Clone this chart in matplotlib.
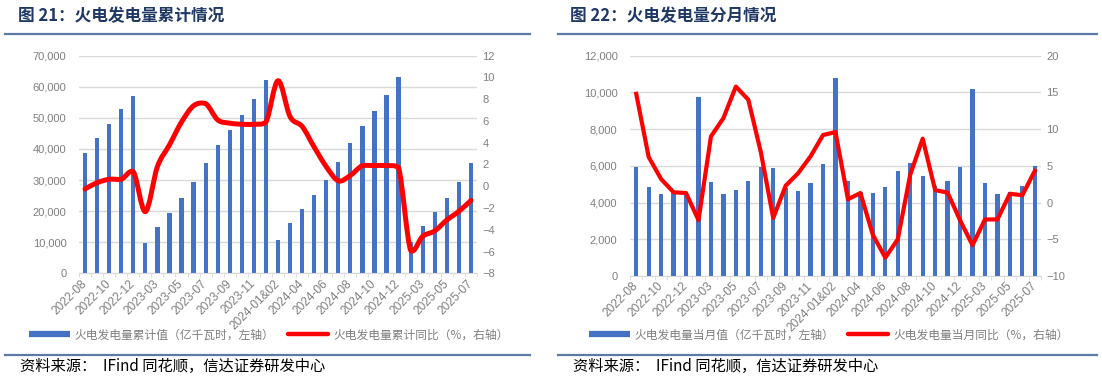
import matplotlib
matplotlib.use("Agg")
import matplotlib.pyplot as plt
import numpy as np
from matplotlib.lines import Line2D
from matplotlib.patches import PathPatch
from matplotlib.path import Path

plt.rcParams["font.family"] = ["Liberation Sans", "Noto Sans CJK SC", "DejaVu Sans"]

W, H = 1102, 381

categories = (
    ["2022-08", "2022-09", "2022-10", "2022-11", "2022-12"]
    + ["2023-01&02"] + [f"2023-{m:02d}" for m in range(3, 13)]
    + ["2024-01&02"] + [f"2024-{m:02d}" for m in range(3, 13)]
    + ["2025-01&02"] + [f"2025-{m:02d}" for m in range(3, 8)]
)

# 累计值（亿千瓦时）与累计同比（%）
cum_value = [38700, 43500, 48000, 52800, 57100,
             9750, 14900, 19400, 24100, 29400, 35400, 41300, 46200, 50900, 56100, 62200,
             10700, 16100, 20600, 25100, 29900, 35700, 41800, 47400, 52100, 57300, 63200,
             10200, 15200, 19800, 24300, 29400, 35400]
cum_yoy = [-0.25, 0.33, 0.64, 0.64, 1.34,
           -2.33, 1.8, 3.8, 5.9, 7.4, 7.6, 6.1, 5.8, 5.7, 5.7, 5.9,
           9.7, 6.4, 5.5, 3.6, 1.8, 0.5, 1.0, 1.9, 1.9, 1.9, 1.7,
           -5.9, -4.6, -4.1, -3.1, -2.3, -1.3]

# 当月值（亿千瓦时）与当月同比（%）
month_value = [5950, 4850, 4440, 4520, 4500,
               9730, 5140, 4480, 4700, 5190, 5950, 5860, 4800, 4640, 5060, 6080,
               10800, 5190, 4550, 4520, 4860, 5740, 6140, 5450, 4900, 5150, 5960,
               10200, 5060, 4460, 4600, 4920, 5970]
month_yoy = [14.8, 6.2, 3.2, 1.4, 1.3,
             -2.4, 9.0, 11.5, 15.8, 14.0, 6.9, -2.1, 2.3, 4.0, 6.3, 9.2,
             9.6, 0.45, 1.3, -4.4, -7.5, -5.0, 3.8, 8.7, 1.7, 1.35, -2.4,
             -5.8, -2.3, -2.3, 1.2, 1.0, 4.3]

BLUE = "#4472C4"
RED = "#FF0000"
GRID = "#D9D9D9"
TXT = "#7F7F7F"
NAVY = "#1F3864"
RULE = "#5B7BA6"


def smooth_path(x, y):
    # smoothed line as cubic Bezier segments through the data points,
    # control points kept inside each segment's range to avoid overshoot
    pts = np.column_stack([x, y]).astype(float)
    n = len(pts)
    verts = [pts[0]]
    codes = [Path.MOVETO]
    for i in range(n - 1):
        p0 = pts[i - 1] if i > 0 else pts[i]
        p1, p2 = pts[i], pts[i + 1]
        p3 = pts[i + 2] if i + 2 < n else pts[i + 1]
        c1 = p1 + (p2 - p0) / 6
        c2 = p2 - (p3 - p1) / 6
        lo, hi = min(p1[1], p2[1]), max(p1[1], p2[1])
        pad = 0.25 * (hi - lo) + 0.05
        c1[1] = np.clip(c1[1], lo - pad, hi + pad)
        c2[1] = np.clip(c2[1], lo - pad, hi + pad)
        verts += [c1, c2, p2]
        codes += [Path.CURVE4] * 3
    return Path(verts, codes)


def draw_panel(ax, values, yoy, ylim, ystep, rlim, rstep, smooth, lw):
    x = np.arange(len(categories))
    ax.bar(x, values, width=0.35, color=BLUE, zorder=2)
    ax.set_xlim(-0.5, len(categories) - 0.5)
    ax.set_ylim(*ylim)
    ax.set_yticks(np.arange(ylim[0], ylim[1] + 1, ystep))
    ax.set_yticklabels([f"{v:,.0f}" for v in ax.get_yticks()])
    ax.grid(True, axis="y", color=GRID, linewidth=1.0)
    ax.set_axisbelow(True)
    for s in ["top", "left", "right"]:
        ax.spines[s].set_visible(False)
    ax.spines["bottom"].set_color(GRID)
    ax.tick_params(axis="y", length=0, pad=9, labelsize=8, labelcolor=TXT)
    ax.set_xticks(x[::2])
    ax.set_xticklabels(categories[::2], rotation=45, ha="right", va="center",
                       rotation_mode="anchor")
    ax.set_xticks(np.arange(-0.5, len(categories)), minor=True)
    ax.tick_params(axis="x", which="major", length=0, pad=6, labelsize=8.6, labelcolor=TXT)
    ax.tick_params(axis="x", which="minor", length=3, color=GRID)

    ax_r = ax.twinx()
    ax_r.set_ylim(*rlim)
    ax_r.set_yticks(np.arange(rlim[0], rlim[1] + 1, rstep))
    for s in ax_r.spines.values():
        s.set_visible(False)
    ax_r.tick_params(axis="y", length=0, pad=4, labelsize=8, labelcolor=TXT)
    if smooth:
        patch = PathPatch(smooth_path(x, yoy), fill=False, edgecolor=RED, lw=lw,
                          capstyle="round", joinstyle="round", zorder=3)
        ax_r.add_patch(patch)
    else:
        ax_r.plot(x, yoy, color=RED, lw=lw, solid_joinstyle="round", zorder=3)
    return ax_r


fig = plt.figure(figsize=(W / 100, H / 100), dpi=100)

ax1 = fig.add_axes([79 / W, 1 - 273.3 / H, (477 - 79) / W, (273.3 - 55.7) / H])
draw_panel(ax1, cum_value, cum_yoy, (0, 70000), 10000, (-8, 12), 2, True, 3.6)

ax2 = fig.add_axes([630 / W, 1 - 276 / H, (1041 - 630) / W, (276 - 55.7) / H])
draw_panel(ax2, month_value, month_yoy, (0, 12000), 2000, (-10, 20), 5, False, 3.0)

# titles, rules, legends, source notes
panels = [
    (5, 530, 18, "图 21：火电发电量累计情况", "火电发电量累计值（亿千瓦时，左轴）", "火电发电量累计同比（%，右轴）", 269),
    (558, 1097, 570, "图 22：火电发电量分月情况", "火电发电量当月值（亿千瓦时，左轴）", "火电发电量当月同比（%，右轴）", 829),
]
for x0, x1, tx, title, lab_bar, lab_line, lcx in panels:
    fig.text(tx / W, 1 - 16 / H, title, fontsize=12, fontweight="bold", color=NAVY,
             family=["Noto Sans CJK SC"], va="center", ha="left")
    fig.add_artist(Line2D([x0 / W, x1 / W], [1 - 34 / H, 1 - 34 / H], color=RULE, lw=1.6))
    fig.add_artist(Line2D([x0 / W, x1 / W], [1 - 355 / H, 1 - 355 / H], color=RULE, lw=1.6))
    fig.text((x0 + 15) / W, 1 - 366 / H, "资料来源：  IFind 同花顺，信达证券研发中心", fontsize=11,
             color="black", family=["Noto Sans CJK SC"], style="italic", va="center", ha="left")
    handles = [Line2D([], [], color=BLUE, lw=4.5, solid_capstyle="butt"),
               Line2D([], [], color=RED, lw=3.2, solid_capstyle="round")]
    fig.legend(handles, [lab_bar, lab_line], loc="center", bbox_to_anchor=(lcx / W, 1 - 335 / H),
               ncol=2, frameon=False, labelcolor=TXT, handlelength=3.4,
               handletextpad=0.4, columnspacing=1.2, prop={"family": ["Noto Sans CJK SC"], "size": 8.5})

fig.savefig("out.png", dpi=100, facecolor="white")
